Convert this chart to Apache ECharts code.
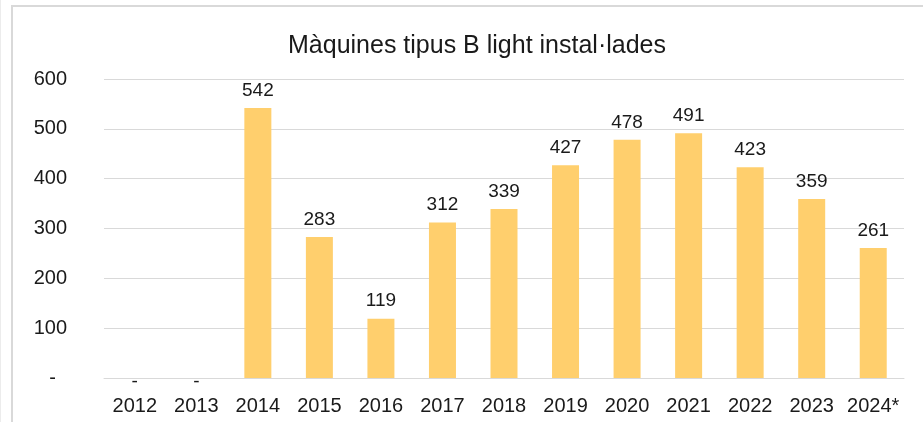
<!DOCTYPE html>
<html><head><meta charset="utf-8">
<script src="https://cdn.jsdelivr.net/npm/echarts@6/dist/echarts.min.js"></script>
<style>html,body{margin:0;padding:0;background:#fff}#c{width:923px;height:422px}</style>
</head><body><div id="c"></div>
<script>
const categories = ['2012','2013','2014','2015','2016','2017','2018','2019','2020','2021','2022','2023','2024*'];
const values = [0,0,542,283,119,312,339,427,478,491,423,359,261];
const titleText = 'Màquines tipus B light instal·lades';
const yTicks = [0,100,200,300,400,500,600];

const font = 'Liberation Sans, Arial, sans-serif';
const chart = echarts.init(document.getElementById('c'));
chart.setOption({
  animation: false,
  textStyle: {fontFamily: font},
  graphic: [
    {type:'line', shape:{x1:0.5,y1:0,x2:0.5,y2:422}, style:{stroke:'#ececec',lineWidth:1}},
    {type:'line', shape:{x1:12,y1:5,x2:12,y2:422}, style:{stroke:'#d9d9d9',lineWidth:2}},
    {type:'line', shape:{x1:11,y1:6,x2:923,y2:6}, style:{stroke:'#d9d9d9',lineWidth:2}}
  ],
  title: {text: titleText, left: 283, top: 29,
    textStyle:{fontFamily:font, fontSize:25, fontWeight:'normal', color:'#1a1a1a'}},
  grid: {left:104, right:19, top:79, bottom:44},
  xAxis: {type:'category', data: categories,
    axisLine:{show:true, lineStyle:{color:'#d9d9d9'}}, axisTick:{show:false},
    axisLabel:{interval:0, fontFamily:font, fontSize:20, color:'#1a1a1a', margin:18}},
  yAxis: {type:'value', min:0, max:600, interval:100,
    axisLine:{show:false}, axisTick:{show:false},
    splitLine:{lineStyle:{color:'#d9d9d9'}},
    axisLabel:{fontFamily:font, fontSize:20, color:'#1a1a1a', margin:37,
      formatter: v => v === 0 ? '-  ' : String(v)}},
  series: [{type:'bar', data: values.map(v => v === 0 ? {value:v, label:{position:'bottom', distance:-6}} : v),
    barWidth:27, itemStyle:{color:'#FFCF6D'},
    label:{show:true, position:'top', distance:8, fontFamily:font, fontSize:19, color:'#1a1a1a',
      formatter: p => p.value === 0 ? '-' : String(p.value)}}]
});
</script></body></html>
